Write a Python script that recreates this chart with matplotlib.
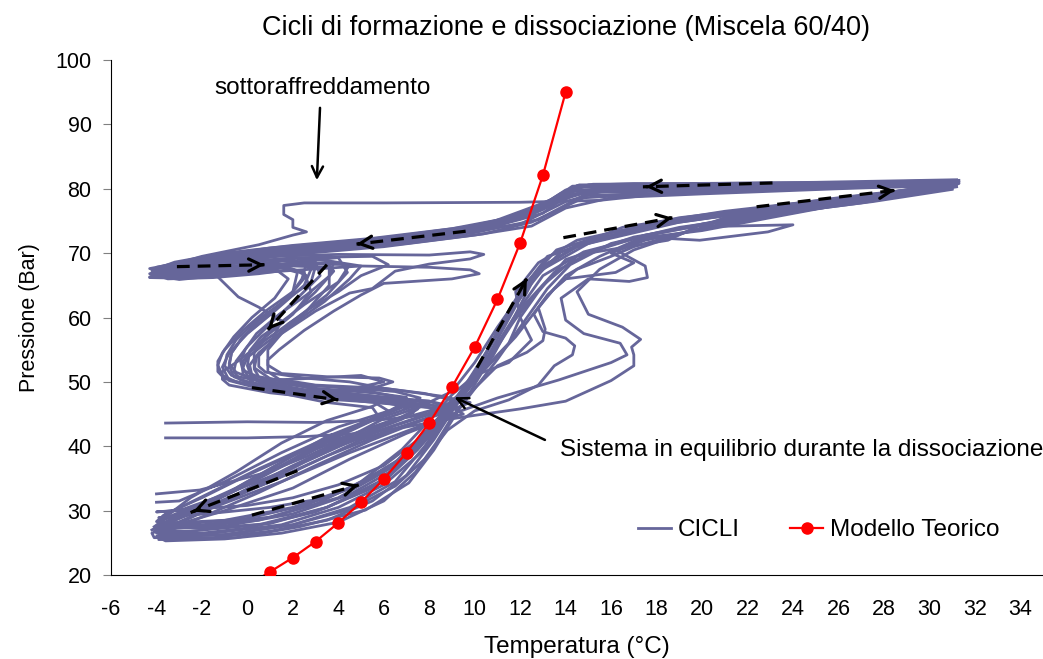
import numpy as np
import matplotlib
matplotlib.use("Agg")
import matplotlib.pyplot as plt

plt.rcParams['font.family'] = ['Liberation Sans', 'DejaVu Sans']
plt.rcParams['axes.unicode_minus'] = False

# Modello teorico (T in °C, P in bar)
modello_T = [0, 1, 2, 3, 4, 5, 6, 7, 8, 9, 10, 11, 12, 13, 14]
modello_P = [18.4, 20.5, 22.7, 25.2, 28.1, 31.3, 34.9, 39.0, 43.6, 49.2, 55.4, 62.8, 71.6, 82.1, 95.0]

ciclo_01 = [(31.2,81.0),(27.0,80.6),(22.0,80.2),(17.5,80.0),(14.5,79.2),(12.5,76.0),(10.0,73.6),(6.0,71.8),(2.0,70.2),(-1.0,68.8),(-3.5,67.2),(-4.2,66.6),(-3.0,66.8),(-0.5,67.8),(1.5,68.8),(3.0,68.6),(3.2,66.5),(2.2,63.0),(1.0,59.0),(0.0,55.5),(-0.5,53.2),(-0.6,51.6),(-0.3,50.3),(1.5,48.8),(4.5,47.6),(6.8,46.6),(7.3,45.2),(5.5,43.0),(3.0,39.5),(0.5,35.0),(-2.0,30.5),(-3.8,27.5),(-4.0,26.5),(-2.5,26.3),(0.0,27.3),(3.0,29.8),(5.5,33.5),(7.2,38.5),(8.4,43.5),(9.4,48.5),(10.4,54.0),(11.4,60.0),(12.3,65.5),(13.6,70.5),(16.0,73.2),(20.0,75.6),(25.0,77.8),(29.0,79.8),(31.2,81.0)]
ciclo_02 = [(31.0,81.2),(24.0,80.8),(18.0,80.6),(14.3,80.4),(13.5,78.5),(11.5,75.5),(8.0,72.8),(4.0,71.0),(0.0,69.5),(-3.0,67.8),(-4.3,66.3),(-2.5,66.4),(0.5,67.6),(2.5,68.8),(4.0,69.3),(4.4,67.0),(3.5,63.5),(2.2,60.0),(0.8,56.5),(-0.5,53.0),(-1.1,51.6),(-1.1,50.4),(-0.8,49.5),(1.0,48.3),(4.0,47.2),(7.0,46.5),(8.5,45.8),(7.5,44.5),(5.0,41.5),(2.5,37.5),(0.0,33.0),(-2.5,29.0),(-4.2,26.5),(-4.1,25.8),(-1.5,25.8),(1.0,26.8),(3.5,28.5),(5.5,31.5),(7.0,35.5),(8.2,41.0),(9.2,46.5),(10.6,55.0),(11.8,62.0),(13.0,68.0),(15.0,72.0),(20.0,75.8),(26.0,78.6),(31.0,80.6)]
ciclo_03 = [(31.1,81.0),(25.0,80.3),(19.0,79.5),(15.5,78.2),(12.0,77.9),(6.0,77.8),(2.5,77.8),(1.6,77.4),(1.6,76.0),(2.0,75.2),(2.0,74.0),(2.6,73.3),(2.0,72.8),(0.5,71.3),(-2.0,69.5),(-4.0,67.5),(-2.0,67.6),(1.0,68.5),(2.5,67.0),(2.8,64.0),(2.0,60.5),(0.8,57.0),(0.3,54.5),(0.3,52.2),(1.0,50.5),(3.0,48.8),(5.0,48.0),(7.5,47.0),(8.5,46.0),(6.0,43.5),(3.0,40.0),(0.0,34.0),(-3.0,29.0),(-4.0,27.5),(-2.0,27.8),(1.0,29.0),(4.0,32.0),(6.5,37.0),(8.0,42.0),(9.2,47.0),(10.2,52.0),(11.0,58.0),(12.0,64.0),(13.2,69.5),(17.0,73.8),(23.0,76.8),(28.0,79.2),(31.0,80.8)]
ciclo_04 = [(31.3,81.3),(26.0,80.9),(20.0,80.6),(16.0,80.3),(13.8,79.3),(12.2,75.8),(9.0,73.2),(5.0,71.5),(1.0,70.5),(-2.0,68.9),(-4.2,67.0),(-3.5,66.2),(-1.5,66.5),(-1.5,67.0),(-0.4,63.2),(0.5,61.6),(1.5,59.5),(1.0,56.0),(0.4,53.8),(0.3,52.0),(0.5,50.8),(2.5,49.6),(5.0,48.8),(6.4,47.8),(5.5,46.2),(3.5,44.0),(1.5,40.5),(-0.5,36.0),(-2.5,32.0),(-3.6,29.0),(-3.9,28.0),(-2.0,27.6),(0.5,28.5),(3.0,31.0),(5.0,34.5),(6.8,39.5),(8.0,44.0),(9.0,48.0),(10.0,51.0),(11.5,53.0),(12.5,56.5),(12.0,60.0),(12.8,64.0),(14.0,69.0),(17.0,72.5),(22.0,75.5),(27.0,77.8),(31.2,80.3)]
ciclo_05 = [(31.0,80.8),(25.0,80.2),(19.0,79.4),(14.8,78.6),(12.5,74.8),(10.4,73.0),(7.0,71.5),(3.0,70.2),(-0.5,69.2),(-3.0,68.0),(-4.1,67.2),(-2.8,67.6),(1.0,69.5),(4.0,69.8),(8.0,69.7),(9.8,70.2),(10.4,69.8),(9.8,69.1),(8.0,68.3),(6.5,67.2),(5.5,64.5),(4.5,63.8),(3.0,61.0),(1.5,57.5),(0.9,55.0),(0.9,52.6),(1.5,51.3),(3.5,50.8),(5.8,50.6),(6.4,50.0),(5.5,49.0),(3.0,48.0),(5.0,47.0),(8.0,46.0),(8.8,44.5),(7.0,42.0),(4.5,38.0),(2.0,33.5),(-1.0,30.0),(-3.7,27.2),(-3.9,26.0),(-1.0,26.2),(2.0,27.8),(4.5,30.5),(6.5,34.5),(7.8,40.0),(9.0,46.0),(10.2,51.5),(11.5,58.5),(13.0,65.0),(14.5,69.5),(17.5,72.8),(21.0,75.2),(26.0,77.5),(31.0,80.2)]
ciclo_06 = [(-3.6,43.6),(0.0,43.8),(3.0,43.7),(5.5,44.0),(7.0,44.5),(8.3,45.2),(9.5,48.5),(10.5,53.5),(11.3,58.5),(12.0,63.0),(13.0,67.5),(15.0,71.5),(19.0,74.8),(24.0,77.3),(28.5,79.4),(31.2,80.9),(27.5,80.7),(21.0,80.4),(16.0,80.2),(14.0,78.8),(13.0,76.2),(10.5,73.8),(7.0,72.2),(3.0,70.8),(0.0,69.8),(-2.5,68.0),(-4.0,66.8),(-2.0,67.2),(1.0,68.2),(2.2,67.0),(2.0,64.0),(1.0,60.5),(-0.2,57.0),(-0.7,54.5),(-0.8,52.8),(-0.5,51.5),(0.8,49.6),(3.5,48.0),(6.0,47.2),(7.8,46.5),(6.5,44.0),(4.0,40.5),(1.5,36.0),(-1.0,31.5),(-3.2,28.5),(-4.0,27.0),(-2.5,26.8),(0.5,27.8),(3.5,30.5),(6.0,34.5),(7.5,39.5),(8.6,44.0)]
ciclo_07 = [(-3.6,41.3),(0.0,41.3),(2.5,41.5),(5.0,42.0),(7.0,43.0),(8.5,44.0),(10.0,44.8),(12.0,45.8),(14.0,47.0),(16.0,50.2),(17.0,52.5),(17.0,54.2),(16.9,55.4),(17.3,56.6),(16.5,58.5),(15.0,60.5),(14.5,64.0),(15.5,67.5),(17.0,70.5),(19.5,73.5),(24.0,76.8),(28.0,78.8),(31.0,80.5),(26.0,80.4),(20.0,80.2),(15.5,80.0),(13.0,77.5),(11.0,74.5),(8.0,72.6),(4.5,71.2),(0.5,70.0),(-2.0,68.5),(-4.0,66.9),(-3.0,66.4),(-1.0,67.3),(2.0,68.4),(4.5,68.2),(4.0,65.5),(2.5,62.0),(1.2,58.5),(0.2,55.0),(-0.2,53.2),(-0.2,51.2),(0.3,49.8),(2.5,48.6),(5.5,47.8),(7.0,47.0),(6.0,45.0),(3.5,41.5),(1.0,36.5),(-1.5,31.5),(-3.5,28.0),(-4.1,26.8),(-2.0,26.5)]
ciclo_08 = [(-4.0,27.2),(-1.0,27.6),(2.0,29.5),(4.5,32.5),(6.5,36.5),(8.0,41.5),(9.0,45.0),(11.0,47.5),(13.7,50.3),(16.0,53.0),(16.7,54.2),(16.4,56.0),(14.8,57.5),(14.0,59.6),(13.8,63.0),(15.0,66.0),(16.8,65.6),(17.6,66.2),(17.5,68.0),(16.2,70.5),(18.0,73.0),(22.0,75.8),(27.0,78.2),(31.3,80.8),(26.0,80.5),(21.0,80.0),(17.0,79.6),(14.4,79.8),(13.0,77.0),(10.0,74.0),(6.5,72.3),(2.5,71.0),(-0.5,69.8),(-3.5,67.5),(-4.3,66.8),(-3.0,66.9),(0.0,68.0),(2.0,69.0),(2.8,67.5),(2.5,65.0),(1.2,61.0),(0.0,57.5),(-0.8,54.5),(-1.1,52.3),(-0.8,50.2),(0.5,49.0),(3.0,47.8),(5.5,47.0),(6.2,45.5),(4.5,42.5),(2.0,38.5),(-0.5,33.5),(-3.0,29.5),(-4.2,27.0)]
ciclo_09 = [(31.0,81.0),(25.0,80.5),(19.5,80.3),(16.0,80.0),(14.0,78.0),(12.0,74.5),(9.0,73.0),(5.0,71.2),(1.5,70.0),(-1.5,68.5),(-4.0,66.5),(-3.0,65.9),(-0.5,66.8),(2.0,68.0),(3.6,67.8),(3.6,65.0),(2.6,61.0),(1.5,57.5),(0.5,54.5),(0.1,52.6),(0.2,51.0),(0.6,50.0),(2.5,48.8),(5.5,47.8),(8.0,47.0),(9.0,46.2),(8.0,44.5),(5.0,41.0),(2.0,36.0),(-1.0,31.5),(-3.2,27.8),(-3.9,26.2),(-1.5,26.5),(1.5,27.8),(4.0,30.5),(6.0,34.0),(7.8,39.5),(9.0,45.5),(10.2,51.0),(11.8,57.0),(13.0,62.5),(14.0,66.5),(15.5,69.5),(17.4,72.5),(19.9,72.0),(22.9,73.3),(24.0,74.4),(19.9,74.1),(21.0,75.5),(26.0,78.0),(30.0,79.8),(31.2,80.7)]
ciclo_10 = [(31.1,81.1),(24.0,80.7),(18.0,80.5),(14.6,80.6),(13.6,78.8),(12.0,75.3),(9.5,73.4),(5.5,71.6),(2.0,70.8),(-1.0,69.2),(-3.8,67.4),(-4.2,66.9),(-2.0,67.0),(0.5,67.4),(2.6,68.4),(2.4,66.0),(1.8,63.0),(0.4,59.5),(-0.5,56.5),(-0.9,54.2),(-1.0,52.5),(-0.7,51.0),(0.5,50.2),(2.5,50.5),(5.0,51.0),(6.0,50.0),(4.0,48.5),(6.0,47.2),(9.0,46.0),(9.5,45.0),(7.5,43.0),(4.5,39.0),(1.5,34.5),(-1.5,30.5),(-3.8,26.8),(-3.9,25.5),(-0.5,25.8),(2.3,27.5),(5.2,30.1),(7.1,34.3),(8.2,39.4),(9.0,44.0),(9.9,49.0),(11.0,55.5),(12.2,62.0),(13.5,67.0),(15.0,70.0),(18.5,72.0),(20.0,74.5),(25.0,77.3),(31.0,80.0)]
ciclo_11 = [(-4.0,32.6),(-2.1,33.2),(0.8,35.9),(2.6,38.4),(4.5,41.5),(5.9,44.1),(7.5,46.0),(9.0,48.5),(10.0,53.0),(11.0,58.5),(12.0,63.5),(13.0,68.0),(14.5,71.0),(18.5,75.0),(23.0,77.0),(28.0,79.3),(31.2,81.1),(26.0,80.8),(20.0,80.7),(17.0,80.8),(14.5,80.5),(13.0,76.8),(11.0,74.2),(8.0,73.0),(4.0,71.4),(0.5,70.3),(-2.0,68.8),(-4.1,67.6),(-2.5,67.9),(0.0,68.7),(1.8,69.2),(3.4,69.0),(3.8,67.2),(3.0,64.0),(1.8,60.0),(0.6,57.0),(0.1,54.8),(0.0,52.5),(0.2,50.5),(1.8,49.6),(4.0,49.2),(6.5,48.5),(7.6,47.5),(6.5,45.8),(4.0,43.0),(1.5,39.0),(-1.0,34.5),(-3.0,31.5),(-4.0,31.3)]
ciclo_12 = [(31.2,81.4),(25.0,81.0),(20.0,80.8),(15.0,80.6),(14.2,79.5),(12.8,77.5),(10.5,74.5),(6.5,72.6),(3.0,71.3),(0.0,70.2),(-2.5,68.8),(-4.3,67.6),(-3.0,67.2),(-1.0,67.9),(1.5,68.3),(3.2,69.0),(5.0,68.0),(4.5,66.0),(3.4,62.5),(2.0,59.0),(0.8,56.0),(0.0,53.8),(-0.2,52.2),(0.0,51.0),(1.0,49.5),(3.5,47.9),(6.0,46.8),(7.5,45.8),(6.8,44.2),(4.5,41.0),(2.0,37.0),(-0.5,32.5),(-2.5,29.5),(-3.9,28.9),(-1.5,29.6),(1.0,30.5),(3.5,32.0),(5.5,35.0),(7.0,38.5),(8.2,43.0),(9.5,48.0),(10.8,54.0),(11.8,60.5),(12.6,66.0),(13.8,70.2),(16.5,74.0),(21.0,76.5),(26.0,78.5),(30.0,80.2)]
ciclo_13 = [(-3.9,28.0),(-1.0,28.5),(2.0,30.5),(4.5,33.5),(6.5,37.5),(8.0,42.5),(9.0,46.0),(10.0,49.0),(11.0,52.5),(12.3,54.6),(13.0,56.4),(13.1,58.2),(12.8,61.5),(13.5,64.5),(14.5,67.5),(16.0,69.5),(17.0,71.0),(19.0,73.0),(23.0,76.0),(28.0,78.5),(31.0,80.4),(27.0,80.2),(22.0,79.8),(17.5,79.2),(14.8,79.0),(12.8,75.2),(10.0,73.2),(7.0,71.8),(3.5,70.6),(0.0,69.4),(-3.0,67.9),(-4.0,67.1),(-2.5,66.7),(0.5,67.0),(2.2,68.2),(3.0,68.0),(2.8,65.5),(1.6,62.5),(0.5,59.5),(-0.3,56.5),(-0.7,54.5),(-0.8,52.5),(-0.6,50.8),(1.0,48.6),(3.5,46.8),(5.5,46.0),(5.8,44.5),(4.0,41.5),(1.5,37.0),(-1.0,32.5),(-3.5,29.0),(-4.1,27.5)]
ciclo_14 = [(31.1,80.6),(26.0,80.0),(20.0,79.2),(16.0,78.6),(14.0,77.0),(12.5,74.2),(10.0,72.8),(6.0,71.0),(2.0,69.8),(-1.5,68.2),(-3.8,66.8),(-3.2,66.3),(-1.0,66.6),(1.5,67.2),(5.0,68.0),(8.0,67.8),(9.8,67.4),(10.2,66.8),(9.0,66.0),(6.0,65.3),(5.0,63.5),(3.8,61.0),(2.5,58.0),(1.4,55.0),(0.9,53.4),(0.9,51.6),(1.4,50.4),(3.0,49.5),(6.0,49.0),(8.5,47.8),(9.8,46.8),(8.5,45.0),(6.0,42.0),(3.5,38.5),(1.0,34.5),(-1.5,31.0),(-3.8,28.5),(-4.0,27.6),(-2.0,27.2),(1.0,28.0),(3.5,30.5),(5.8,34.5),(7.5,40.0),(8.8,45.0),(10.0,50.5),(11.5,56.0),(12.0,60.0),(11.8,64.0),(12.8,68.5),(14.5,72.0),(19.0,75.5),(24.5,77.8),(29.0,79.6),(31.2,80.8)]
ciclo_15 = [(31.2,80.9),(26.0,80.4),(21.0,79.9),(17.0,79.5),(14.8,79.6),(13.2,77.8),(11.2,74.6),(8.5,73.2),(5.0,72.0),(1.0,70.8),(-2.0,69.3),(-4.0,67.8),(-3.2,67.2),(-1.0,67.6),(1.2,68.2),(3.8,68.6),(3.6,66.4),(2.6,63.5),(1.4,60.5),(0.4,57.5),(-0.1,55.0),(-0.3,53.2),(-0.2,51.8),(1.0,50.0),(3.0,49.0),(5.5,48.3),(7.0,47.6),(6.8,46.0),(5.0,43.5),(2.5,39.5),(0.0,35.5),(-2.0,32.0),(-3.6,29.5),(-4.0,28.3),(-2.5,28.0),(0.0,28.8),(2.5,30.8),(4.8,33.8),(6.6,37.8),(8.0,42.8),(9.1,47.2),(10.0,51.5),(10.9,57.0),(11.8,62.5),(12.9,67.5),(14.5,71.2),(17.5,74.2),(22.0,76.3),(27.0,78.4),(31.1,80.5)]
ciclo_16 = [(31.0,81.3),(27.0,81.0),(23.0,80.9),(18.5,80.8),(15.2,80.7),(14.0,79.8),(12.7,76.8),(10.8,74.0),(7.5,72.4),(4.5,71.2),(1.5,70.2),(-1.5,69.0),(-3.8,67.2),(-4.3,66.2),(-2.8,66.1),(-0.5,66.9),(1.2,67.6),(1.8,66.0),(1.2,63.0),(0.2,60.0),(-0.6,57.0),(-1.1,54.5),(-1.3,52.6),(-1.1,51.0),(-0.5,50.0),(1.2,48.8),(3.5,48.0),(5.8,47.5),(8.0,47.0),(8.8,46.0),(7.8,44.2),(5.5,41.0),(3.0,37.0),(0.5,32.8),(-2.0,29.0),(-4.0,26.0),(-3.6,25.3),(-1.0,25.6),(1.5,26.5),(4.0,28.2),(6.0,31.5),(7.4,36.0),(8.3,40.5),(9.0,44.5),(9.8,48.0),(11.0,53.5),(12.2,59.5),(13.2,64.5),(14.2,68.2),(16.0,71.5),(19.0,74.0),(23.0,76.0),(27.5,78.0),(31.0,79.9)]
ciclo_17 = [(31.3,81.0),(25.5,80.7),(20.5,80.5),(17.2,80.4),(14.6,80.2),(13.4,78.0),(12.0,75.8),(9.0,73.8),(5.5,72.3),(2.0,71.2),(-1.0,70.0),(-3.2,68.6),(-4.2,67.3),(-3.0,67.6),(-0.5,68.4),(2.2,69.3),(5.5,69.5),(6.2,68.2),(5.0,66.5),(4.0,64.0),(2.8,61.5),(1.8,59.0),(1.0,56.0),(0.5,54.0),(0.5,52.4),(0.8,51.5),(2.5,50.6),(4.5,50.0),(6.0,49.0),(7.8,48.2),(9.2,47.0),(8.5,45.5),(6.5,43.2),(4.0,40.0),(1.5,36.0),(-1.0,32.5),(-3.0,30.0),(-4.0,29.8),(-2.5,30.2),(0.0,30.8),(2.0,32.0),(4.0,34.0),(6.0,37.0),(7.5,41.0),(8.7,45.5),(9.8,50.0),(11.0,56.0),(12.0,61.5),(13.0,66.5),(14.8,70.2),(17.0,72.2),(20.0,73.5),(23.0,75.5),(28.0,78.8),(31.2,80.8)]
ciclo_18 = [(-3.8,26.0),(-1.0,26.3),(2.0,27.8),(4.5,30.2),(6.5,33.8),(7.8,38.0),(8.8,42.5),(10.0,45.5),(11.5,47.2),(12.8,49.5),(13.5,52.5),(14.3,54.2),(14.4,55.6),(14.0,56.8),(13.0,57.8),(12.6,60.5),(13.2,63.5),(14.0,66.0),(16.2,67.0),(17.0,68.5),(16.0,70.0),(17.5,72.0),(21.0,74.5),(26.0,77.5),(31.2,80.6),(25.0,80.3),(19.0,80.0),(15.8,79.8),(14.0,79.0),(12.5,76.5),(10.5,73.8),(7.5,72.0),(4.0,70.6),(0.8,69.6),(-2.0,68.4),(-4.0,66.6),(-3.5,66.0),(-1.5,66.2),(0.5,66.8),(2.0,67.5),(2.6,66.5),(2.0,64.0),(0.8,61.0),(-0.2,58.0),(-1.0,55.0),(-1.3,53.2),(-1.3,51.6),(-1.0,50.5),(0.5,49.2),(2.8,48.2),(5.0,47.6),(6.5,46.8),(7.0,45.8),(5.5,44.0),(3.0,40.5),(0.5,36.5),(-1.8,32.5),(-3.7,29.2)]

cicli = [ciclo_01, ciclo_02, ciclo_03, ciclo_04, ciclo_05, ciclo_06, ciclo_07, ciclo_08, ciclo_09,
         ciclo_10, ciclo_11, ciclo_12, ciclo_13, ciclo_14, ciclo_15, ciclo_16, ciclo_17, ciclo_18]

# frecce tratteggiate (coda, punta)
frecce = [((-3.1, 67.9), (0.75, 68.2)),
          ((9.6, 73.4), (4.8, 71.4)),
          ((3.5, 68.2), (0.9, 58.1)),
          ((0.2, 49.1), (4.0, 47.2)),
          ((2.2, 36.2), (-2.5, 29.7)),
          ((0.2, 29.3), (4.9, 34.0)),
          ((10.1, 52.2), (12.3, 66.1)),
          ((13.9, 72.4), (18.7, 75.5)),
          ((22.4, 77.2), (28.6, 79.8)),
          ((23.1, 80.9), (17.4, 80.3))]

blu = '#66669A'
fs = 15.5
fs_big = 17.5

fig = plt.figure(figsize=(10.43, 6.59), dpi=100)
ax = fig.add_axes([111/1043, 84/659, 932/1043, 515/659])

for i, c in enumerate(cicli):
    t = [p[0] for p in c]
    pr = [p[1] for p in c]
    ax.plot(t, pr, color=blu, lw=2.0, solid_joinstyle='round',
            label='CICLI' if i == 0 else None, zorder=2)

ax.plot(modello_T, modello_P, color='red', lw=1.6, marker='o', markersize=8,
        label='Modello Teorico', zorder=3)

for (x0, y0), (x1, y1) in frecce:
    ax.plot([x0, x1], [y0, y1], color='black', lw=2.3, ls=(0, (4, 2.5)), zorder=4)
    ax.annotate('', xy=(x1, y1), xytext=(x1 - (x1 - x0) * 0.05, y1 - (y1 - y0) * 0.05),
                arrowprops=dict(arrowstyle='->', lw=2.3, color='black', mutation_scale=22),
                zorder=5)

ax.annotate('', xy=(3.05, 80.9), xytext=(3.2, 93.0),
            arrowprops=dict(arrowstyle='->', lw=1.8, color='black', mutation_scale=20))
ax.text(3.3, 95.6, 'sottoraffreddamento', ha='center', va='center', fontsize=fs_big)

ax.annotate('', xy=(9.0, 47.8), xytext=(13.2, 40.8),
            arrowprops=dict(arrowstyle='->', lw=1.8, color='black', mutation_scale=20))
ax.text(13.75, 39.4, 'Sistema in equilibrio durante la dissociazione',
        ha='left', va='center', fontsize=fs_big)

ax.set_xlim(-6, 35)
ax.set_ylim(20, 100)
ax.set_xticks(np.arange(-6, 35, 2))
ax.set_yticks(np.arange(20, 101, 10))
ax.spines['top'].set_visible(False)
ax.spines['right'].set_visible(False)
ax.tick_params(axis='x', length=0, pad=17, labelsize=fs)
ax.tick_params(axis='y', length=6, color='#808080', pad=8, labelsize=fs)

ax.set_xlabel('Temperatura (°C)', fontsize=fs_big, labelpad=12)
ax.set_ylabel('Pressione (Bar)', fontsize=fs, labelpad=11)

fig.text(566/1043, 1 - 28/659, 'Cicli di formazione e dissociazione (Miscela 60/40)',
         ha='center', va='center', fontsize=19.5)

ax.legend(loc='center left', bbox_to_anchor=(0.565, 0.087), frameon=False, ncol=2,
          fontsize=fs_big, handlelength=1.36, handletextpad=0.3, columnspacing=2.06,
          borderaxespad=0, borderpad=0)

fig.savefig('out.png', dpi=100)
